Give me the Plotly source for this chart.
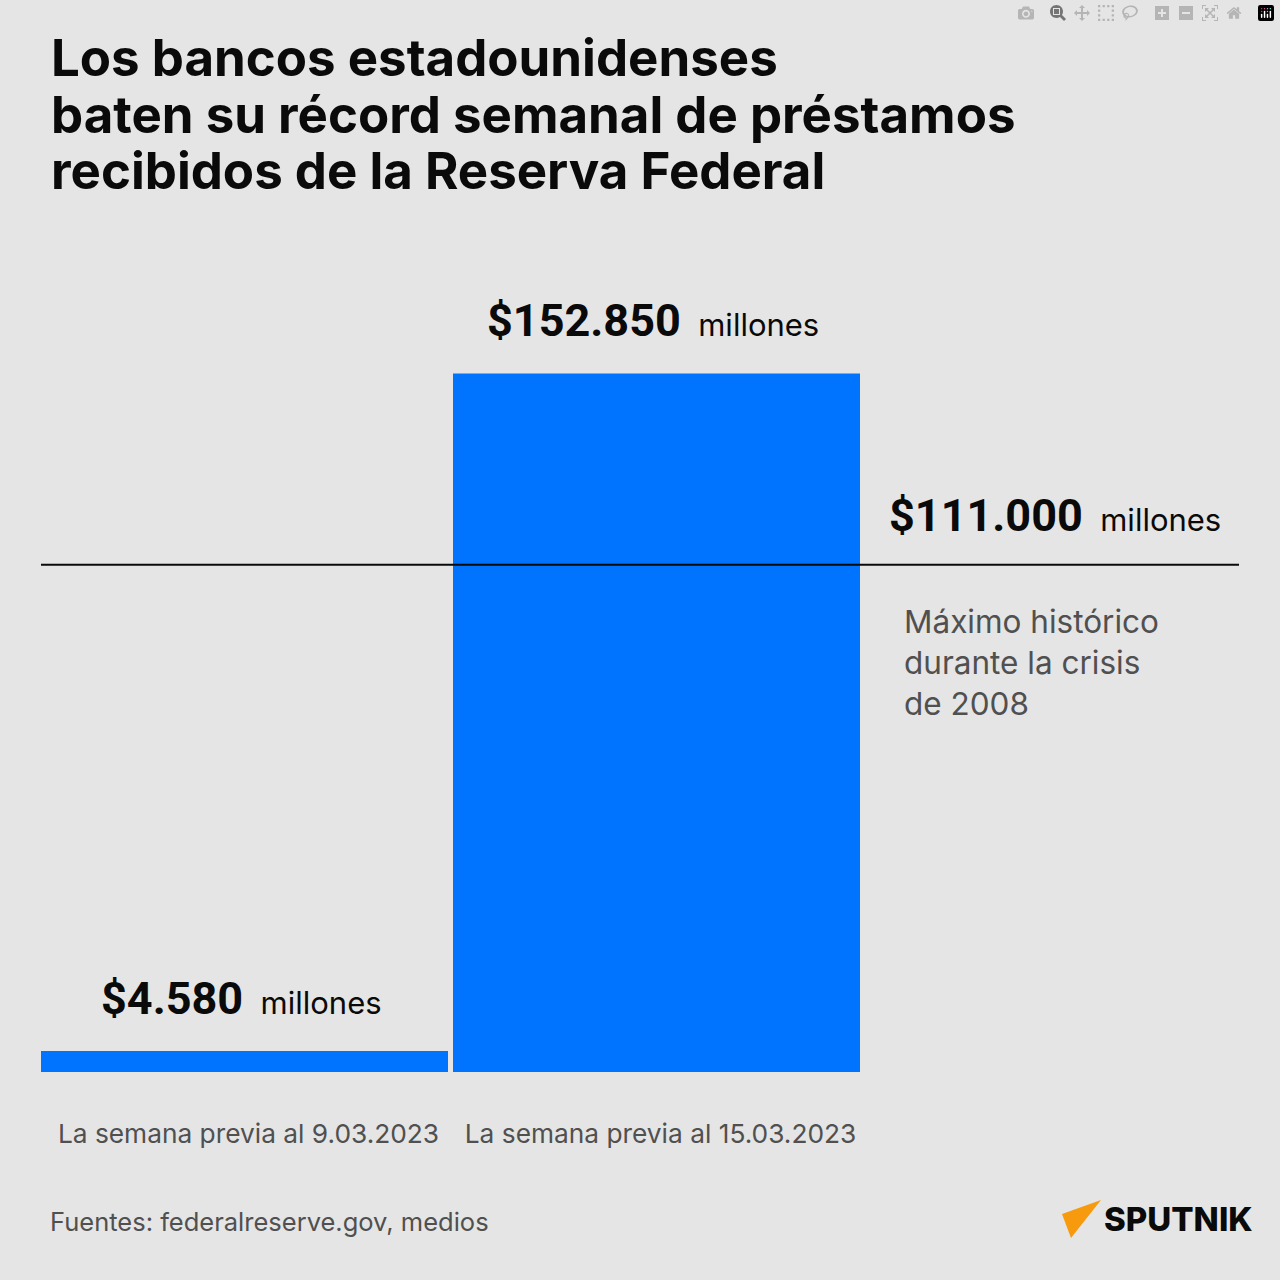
import plotly.graph_objects as go

# values in millions of dollars
weeks = ["La semana previa al 9.03.2023", "La semana previa al 15.03.2023"]
loans = [4580, 152850]
loan_labels = ["$4.580", "$152.850"]
crisis_peak = 111000
crisis_label = "$111.000"
crisis_note = "Máximo histórico<br>durante la crisis<br>de 2008"
title_lines = [
    "Los bancos estadounidenses",
    "baten su récord semanal de préstamos",
    "recibidos de la Reserva Federal",
]
source = "Fuentes: federalreserve.gov, medios"

SIZE = 1280
BASELINE = 1072
PX_PER_UNIT = 0.00457
BODY = "Inter"
GREY = "#505050"
BLACK = "#0a0a0a"


def px(x):
    return x / SIZE


def py(y):
    return 1 - y / SIZE


def text(x, y, s, size, color=BLACK, xanchor="left", font=BODY, weight=400):
    return dict(
        xref="paper", yref="paper", x=px(x), y=py(y), text=s, showarrow=False,
        xanchor=xanchor, yanchor="middle", align="left",
        font=dict(family=font, size=size, color=color, weight=weight),
    )


def value_label(value, cx, y):
    s = f"<b style='font-size:45px;font-family:Roboto'>{value}</b>  millones"
    return text(cx, y, s, 31, xanchor="center")


fig = go.Figure(go.Bar(x=[0, 1], y=loans, marker=dict(color="#0074ff", line_width=0)))

annotations = [text(49, 58 + 56.5 * i, line, 51, weight=700) for i, line in enumerate(title_lines)]
annotations += [
    value_label(loan_labels[0], 241, 998),
    value_label(loan_labels[1], 653, 320),
    value_label(crisis_label, 1055, 515),
    text(902, 662, crisis_note, 31.5, color=GREY),
    text(48, 1221, source, 25.5, color=GREY),
    text(1102, 1219, "SPUTNIK", 33, weight=800),
]

fig.add_shape(
    type="line", xref="paper", yref="y", x0=px(41), x1=px(1239),
    y0=crisis_peak, y1=crisis_peak, line=dict(color=BLACK, width=2),
)
fig.add_shape(
    type="path", xref="paper", yref="paper",
    path=f"M {px(1101)} {py(1200)} L {px(1062)} {py(1214)} L {px(1071)} {py(1238)} Z",
    fillcolor="#f79a0e", line_width=0,
)

fig.update_layout(
    width=SIZE, height=SIZE, margin=dict(l=0, r=0, t=0, b=0),
    paper_bgcolor="#e5e5e5", plot_bgcolor="#e5e5e5",
    showlegend=False, bargap=5 / 412, annotations=annotations,
)
# one category slot is 412 px wide, the first starts at 38.5 px
fig.update_xaxes(
    range=[-0.5 - 38.5 / 412, -0.5 + (SIZE - 38.5) / 412],
    tickvals=[0, 1], ticktext=weeks, ticks="", showgrid=False, zeroline=False,
    showline=False, ticklabelstandoff=44, ticklabelshift=4,
    tickfont=dict(family=BODY, size=26.3, color=GREY),
)
fig.update_yaxes(
    domain=[1 - BASELINE / SIZE, 1], range=[0, BASELINE / PX_PER_UNIT],
    visible=False,
)

fig.write_html("out.html", post_script="document.body.style.margin = '0';")
